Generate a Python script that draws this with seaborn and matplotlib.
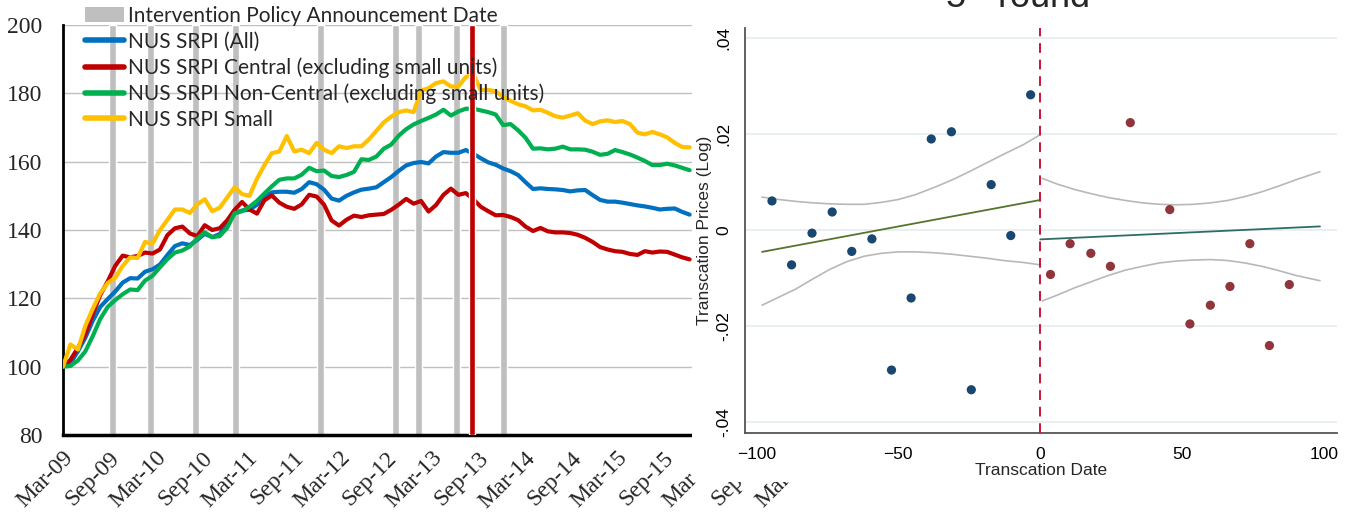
import numpy as np
import pandas as pd
import matplotlib
matplotlib.use("Agg")
import matplotlib.pyplot as plt
import matplotlib.transforms as mtransforms
from matplotlib.patches import Rectangle, Patch
from matplotlib.lines import Line2D
import seaborn as sns

# ---- left panel: NUS SRPI indices (Mar-09 = 100), samples read along the x axis ----
srpi_all = [100, 101, 104.5, 108.5, 113.5, 117.5, 119.8, 122, 124.6, 125.9,
            125.8, 127.8, 128.5, 129.9, 132.7, 135.3, 136.1, 135.6, 137.1, 138.9,
            137.9, 138.8, 141.4, 144.9, 145.7, 145.9, 147.4, 149.6, 151, 151.2,
            151.2, 150.9, 152, 154, 153.4, 151.8, 149.2, 148.6, 150, 151,
            151.8, 152.1, 152.5, 154, 155.5, 157.3, 158.9, 159.6, 159.9, 159.5,
            161.5, 162.8, 162.6, 162.6, 163.4, 162.3, 161, 159.8, 159.1, 158,
            157.2, 156.1, 154, 152, 152.2, 152, 151.9, 151.7, 151.3, 151.6,
            151.7, 150.2, 148.8, 148.3, 148.3, 148, 147.6, 147.2, 146.9, 146.5,
            146, 146.2, 146.3, 145.3, 144.5]
srpi_central = [100, 102, 105.5, 109.5, 115.5, 121, 125, 129.5, 132.5, 132,
                132.4, 133.4, 133.1, 134.3, 138.5, 140.5, 141, 139, 138.2, 141.4,
                140, 140.5, 142.8, 145.9, 148.2, 146, 144.8, 148.7, 150.1, 148,
                146.8, 146.2, 147.5, 150.3, 149.8, 147.4, 142.8, 141.3, 143, 144.2,
                143.8, 144.3, 144.5, 144.7, 145.9, 147.4, 149.1, 147.7, 148.5, 145.4,
                147.3, 150.3, 152.1, 150.3, 150.8, 149, 146.8, 145.5, 144.3, 144.4,
                143.8, 142.9, 141, 139.7, 140.6, 139.6, 139.3, 139.3, 139.1, 138.6,
                137.7, 136.5, 135, 134.3, 133.8, 133.6, 133, 132.7, 133.8, 133.4,
                133.7, 133.6, 132.8, 132, 131.4]
srpi_noncentral = [100, 100.2, 101.8, 104.5, 109, 114, 117.5, 119.5, 121.2, 122.6,
                   122.4, 125.2, 126.6, 129.1, 131.5, 133.4, 134, 135.2, 137.5, 139.3,
                   137.9, 138.2, 140.6, 144.9, 145.5, 146.8, 148.5, 150.7, 152.8, 154.7,
                   155.1, 155.1, 156.2, 158.2, 157.2, 157.4, 155.8, 155.5, 156.1, 157,
                   160.7, 160.5, 161.5, 163.8, 165, 167.6, 169.5, 170.9, 171.9, 172.8,
                   173.8, 175.2, 173.5, 174.7, 175.5, 175.5, 175, 174.5, 173.8, 170.7,
                   171, 169.2, 167, 163.8, 163.9, 163.6, 163.8, 164.4, 163.6, 163.6,
                   163.5, 162.9, 162, 162.3, 163.4, 162.8, 162.1, 161.2, 160.2, 159,
                   159, 159.4, 158.9, 158.2, 157.5]
srpi_small = [100, 106.5, 105, 112, 117, 121.5, 124.5, 126, 129.5, 132,
              131.8, 136.5, 136, 140, 143, 146, 146, 145, 147.5, 149,
              145.5, 146.5, 149.5, 152.5, 150.5, 150, 155, 159, 162.5, 163,
              167.5, 163, 163.5, 162.5, 165.5, 163.5, 162.5, 164.5, 164, 164.5,
              164.5, 166.5, 169, 171.5, 173.2, 174.5, 175, 174.5, 180.8, 181.5,
              183, 183.5, 182, 182, 184.8, 185.5, 181, 181, 180.6, 179,
              177.8, 176.8, 176.2, 175, 175.2, 174.3, 173.3, 172.9, 173.5, 174.2,
              172, 171, 171.8, 172.1, 171.6, 171.9, 171, 168.5, 168, 168.7,
              168, 167.1, 165.5, 164.3, 164.2]
series_names = ["NUS SRPI (All)", "NUS SRPI Central (excluding small units)",
                "NUS SRPI Non-Central (excluding small units)", "NUS SRPI Small"]
series_colors = ["#0070c0", "#c00000", "#00b050", "#ffc000"]

# policy announcement positions, in the same sample units as the series
announce_pos = [6.6, 11.7, 17.8, 23.1, 34.5, 44.6, 47.7, 52.8, 59.1]
highlight_pos = 54.8
tick_labels = ["Mar-09", "Sep-09", "Mar-10", "Sep-10", "Mar-11", "Sep-11",
               "Mar-12", "Sep-12", "Mar-13", "Sep-13", "Mar-14", "Sep-14",
               "Mar-15", "Sep-15", "Mar-16", "Sep-16", "Mar-17"]
label_step = 6.185  # sample units between half-year labels

# ---- right panel: 5th round ----
pre_x = [-94.5, -87.6, -80.4, -73.3, -66.4, -59.3, -52.4, -45.5, -38.4, -31.3,
         -24.3, -17.3, -10.4, -3.4]
pre_y = [0.0061, -0.0072, -0.0006, 0.0038, -0.0044, -0.0018, -0.0291, -0.0141,
         0.019, 0.0205, -0.0332, 0.0095, -0.0011, 0.0282]
post_x = [3.6, 10.5, 17.8, 24.7, 31.7, 45.6, 52.7, 59.9, 66.8, 73.8, 80.7, 87.7]
post_y = [-0.0092, -0.0028, -0.0048, -0.0075, 0.0224, 0.0043, -0.0195, -0.0156,
          -0.0117, -0.0028, -0.024, -0.0113]
pre_fit_x = [-98, 0]
pre_fit_y = [-0.0045, 0.0063]
post_fit_x = [0, 98.5]
post_fit_y = [-0.0019, 0.0008]
pre_ci_x = [-98, -92, -86, -80, -74, -68, -62, -56, -50, -44, -37, -31, -25, -19,
            -13, -6, 0]
pre_ci_hi = [0.0069, 0.0064, 0.006, 0.0057, 0.0055, 0.0054, 0.0054, 0.0058, 0.0064,
             0.0074, 0.009, 0.0105, 0.0122, 0.014, 0.0158, 0.0178, 0.0199]
pre_ci_lo = [-0.0156, -0.0139, -0.0122, -0.0101, -0.0081, -0.0065, -0.0054, -0.0048,
             -0.0045, -0.0045, -0.0047, -0.005, -0.0054, -0.0058, -0.0063, -0.0067,
             -0.0072]
post_ci_x = [0.7, 6, 12, 18, 24, 30, 36, 42, 48, 54, 60, 66, 72, 78, 84, 90, 98.5]
post_ci_hi = [0.0108, 0.0096, 0.0085, 0.0076, 0.0068, 0.0062, 0.0057, 0.0054, 0.0053,
              0.0054, 0.0057, 0.0062, 0.007, 0.008, 0.0092, 0.0105, 0.0122]
post_ci_lo = [-0.0147, -0.0135, -0.012, -0.0107, -0.0094, -0.0083, -0.0075, -0.0068,
              -0.0064, -0.0062, -0.0061, -0.0063, -0.0068, -0.0075, -0.0084, -0.0094,
              -0.0105]
right_yticks = [0.04, 0.02, 0, -0.02, -0.04]
right_yticklabels = [".04", ".02", "0", "-.02", "-.04"]

sns.set_style("white")
plt.rcParams["font.family"] = ["Liberation Sans", "DejaVu Sans"]
plt.rcParams["mathtext.fontset"] = "custom"
plt.rcParams["mathtext.rm"] = "Liberation Sans"

W, H = 1351, 516
fig = plt.figure(figsize=(W / 100, H / 100), dpi=100)


def box(l, t, r, b):
    return [l / W, 1 - b / H, (r - l) / W, (b - t) / H]


px_unit = 7.46
ax1 = fig.add_axes(box(63, 25, 63 + 100 * px_unit, 435))
ax1.set_zorder(1)

df = pd.DataFrame({"pos": np.arange(len(srpi_all)),
                   series_names[0]: srpi_all,
                   series_names[1]: srpi_central,
                   series_names[2]: srpi_noncentral,
                   series_names[3]: srpi_small})
long = df.melt("pos", var_name="series", value_name="index")

ax1.bar(announce_pos, [120] * len(announce_pos), bottom=80, width=0.95,
        color="#bfbfbf", zorder=2)
sns.lineplot(data=long, x="pos", y="index", hue="series", hue_order=series_names,
             palette=dict(zip(series_names, series_colors)), linewidth=3,
             legend=False, ax=ax1, zorder=3)
ax1.bar([highlight_pos], [120], bottom=80, width=0.85, color="#c00000", zorder=4)

ax1.set_xlim(0, 100)
ax1.set_ylim(80, 200)
ax1.set_yticks(range(80, 201, 20))
ax1.set_yticklabels([str(v) for v in range(80, 201, 20)], family="Liberation Serif", fontsize=17)
ax1.set_xticks([i * label_step for i in range(len(tick_labels))])
ax1.set_xticklabels(tick_labels, rotation=45, ha="right", va="top", rotation_mode="anchor",
                    family="Liberation Serif", fontsize=17)
shift = mtransforms.ScaledTranslation(6 / 100, 0, fig.dpi_scale_trans)
for lbl in ax1.get_xticklabels():
    lbl.set_transform(lbl.get_transform() + shift)
ax1.tick_params(axis="x", length=0, pad=9)
ax1.tick_params(axis="y", direction="in", length=6, width=1.3, color="black", pad=15)
ax1.set_axisbelow(True)
ax1.yaxis.grid(True, color="#c0c0c0", linewidth=1)
ax1.set_xlabel("")
ax1.set_ylabel("")
for s in ["top", "right"]:
    ax1.spines[s].set_visible(False)
ax1.spines["left"].set_linewidth(2)
ax1.spines["left"].set_color("black")
ax1.spines["bottom"].set_linewidth(2.5)
ax1.spines["bottom"].set_color("black")

handles = [Patch(facecolor="#bfbfbf", edgecolor="none")] + \
          [Line2D([], [], color=c, linewidth=4) for c in series_colors]
labels = ["Intervention Policy Announcement Date"] + series_names
leg = ax1.legend(handles, labels, loc="upper left", bbox_to_anchor=(85 / W, 1 - 6 / H),
                 bbox_transform=fig.transFigure, frameon=False,
                 prop={"family": "Lato", "size": 15}, handlelength=1.85,
                 handletextpad=0.2, labelspacing=0.27, borderpad=0, borderaxespad=0)
leg.set_zorder(5)

# the right-hand picture lies over the end of the left chart
fig.add_artist(Rectangle((692 / W, 1 - 482 / H), 1, 482 / H, transform=fig.transFigure,
                         facecolor="white", edgecolor="none", zorder=2))

ax2 = fig.add_axes(box(745, 28, 1337, 433))
ax2.set_zorder(3)
ax2.set_facecolor("white")
for cx, cy in [(pre_ci_x, pre_ci_hi), (pre_ci_x, pre_ci_lo),
               (post_ci_x, post_ci_hi), (post_ci_x, post_ci_lo)]:
    sns.lineplot(x=cx, y=cy, color="#b8b8b8", linewidth=1.2, ax=ax2)
sns.lineplot(x=pre_fit_x, y=pre_fit_y, color="#55752f", linewidth=1.3, ax=ax2)
sns.lineplot(x=post_fit_x, y=post_fit_y, color="#2d6d66", linewidth=1.3, ax=ax2)
sns.scatterplot(x=pre_x, y=pre_y, color="#1a476f", s=44, edgecolor="none", ax=ax2, zorder=4)
sns.scatterplot(x=post_x, y=post_y, color="#90353b", s=44, edgecolor="none", ax=ax2, zorder=4)
ax2.axvline(0, color="#c8143c", linewidth=1.4, linestyle=(0, (5, 3.5)), zorder=5)

ax2.set_xlim(-104, 104.5)
ax2.set_ylim(-0.0422, 0.0421)
ax2.set_xticks([-100, -50, 0, 50, 100])
ax2.set_yticks(right_yticks)
ax2.set_yticklabels(right_yticklabels, rotation=90, va="center")
ax2.tick_params(axis="both", direction="out", length=6, width=1, color="#555555",
                labelsize=12.5, labelcolor="black", pad=4)
ax2.set_axisbelow(True)
ax2.yaxis.grid(True, color="#e6eef0", linewidth=1.3)
ax2.set_xlabel("Transcation Date", fontsize=12.5, labelpad=1)
ax2.set_ylabel("Transcation Prices (Log)", fontsize=12.5, labelpad=3)
for s in ["top", "right"]:
    ax2.spines[s].set_visible(False)
for s in ["left", "bottom"]:
    ax2.spines[s].set_color("#555555")
    ax2.spines[s].set_linewidth(1.3)

fig.text(1017 / W, 1 - 8 / H, "5$^{\\rm th}$ round", ha="center", va="baseline",
         fontsize=26, zorder=6)

fig.savefig("out.png", dpi=100)
